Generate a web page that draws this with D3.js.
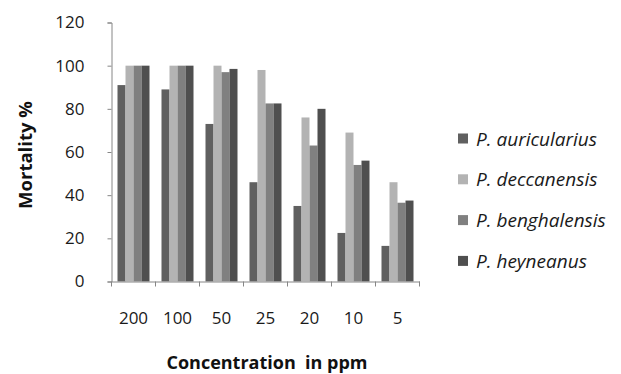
<!DOCTYPE html>
<html>
<head>
<meta charset="utf-8">
<script src="https://cdn.jsdelivr.net/npm/d3@7"></script>
<style>
  html, body { margin: 0; padding: 0; background: #ffffff; }
  svg { display: block; }
</style>
</head>
<body>
<svg id="chart" width="621" height="374"></svg>
<script>
// Concentrations tested (ppm) and mortality (%) per species
const concentrations = ["200", "100", "50", "25", "20", "10", "5"];
const species = ["P. auricularius", "P. deccanensis", "P. benghalensis", "P. heyneanus"];
const auricularius = [91, 89, 73, 46, 35, 22.5, 16.5];
const deccanensis  = [100, 100, 100, 98, 76, 69, 46];
const benghalensis = [100, 100, 97, 82.5, 63, 54, 36.5];
const heyneanus    = [100, 100, 98.5, 82.5, 80, 56, 37.5];
const yTicks = [0, 20, 40, 60, 80, 100, 120];

const seriesValues = [auricularius, deccanensis, benghalensis, heyneanus];
const colors = ["#606060", "#b3b3b3", "#808080", "#4f4f4f"];

const svg = d3.select("#chart");
const plotLeft = 111.5, plotRight = 419.5, plotTop = 22.5, plotBottom = 281.5;

const x = d3.scaleBand().domain(concentrations).range([plotLeft, plotRight]).paddingInner(0).paddingOuter(0);
// four bars per group, with a gap of 1.5 bar widths between groups
const inner = d3.scaleBand().domain(d3.range(species.length))
  .range([0, x.bandwidth()]).paddingInner(0).paddingOuter(0.75);
const y = d3.scaleLinear().domain([0, 120]).range([plotBottom, plotTop]);

// Bars
const groups = svg.append("g").selectAll("g")
  .data(concentrations)
  .join("g")
  .attr("transform", d => `translate(${x(d)},0)`);

groups.selectAll("rect")
  .data((c, i) => seriesValues.map((vals, s) => ({ s, v: vals[i] })))
  .join("rect")
  .attr("x", d => inner(d.s))
  .attr("width", inner.bandwidth())
  .attr("y", d => y(d.v))
  .attr("height", d => y(0) - y(d.v))
  .attr("fill", d => colors[d.s]);

const axisColor = "#868686";
const fontFam = "'Open Sans', 'Liberation Sans', sans-serif";

// Y axis
const yAxis = svg.append("g")
  .attr("transform", `translate(${plotLeft},0)`)
  .call(d3.axisLeft(y).tickValues(yTicks).tickSize(4).tickPadding(23).tickFormat(d3.format("d")));
yAxis.select(".domain").attr("stroke", axisColor);
yAxis.selectAll(".tick line").attr("stroke", axisColor);
yAxis.selectAll(".tick text")
  .attr("fill", "#1a1a1a")
  .style("font-family", fontFam)
  .style("font-size", "17px");

// X axis: tick marks at category boundaries, labels centred in each band
const xAxis = svg.append("g")
  .attr("transform", `translate(0,${plotBottom})`)
  .call(d3.axisBottom(x).tickSize(0).tickPadding(30));
xAxis.select(".domain").attr("stroke", axisColor);
xAxis.selectAll(".tick text")
  .attr("fill", "#1a1a1a")
  .style("font-family", fontFam)
  .style("font-size", "17px");
xAxis.selectAll(".bound")
  .data(concentrations.map(c => x(c)).concat([plotRight]))
  .join("line")
  .attr("class", "bound")
  .attr("x1", d => d).attr("x2", d => d)
  .attr("y1", 0).attr("y2", 5)
  .attr("stroke", axisColor);

// Axis titles
svg.append("text")
  .attr("transform", "translate(32,155) rotate(-90)")
  .attr("text-anchor", "middle")
  .style("font-family", fontFam)
  .style("font-size", "18.5px")
  .style("font-weight", "bold")
  .attr("fill", "#111")
  .text("Mortality %");

svg.append("text")
  .attr("x", 267)
  .attr("y", 369)
  .attr("text-anchor", "middle")
  .style("font-family", fontFam)
  .style("font-size", "18px")
  .style("font-weight", "bold")
  .style("white-space", "pre")
  .attr("fill", "#111")
  .text("Concentration  in ppm");

// Legend
const legend = svg.append("g").selectAll("g")
  .data(species)
  .join("g")
  .attr("transform", (d, i) => `translate(458,${139 + i * 40.8})`);
legend.append("rect")
  .attr("x", 0).attr("y", -5.5)
  .attr("width", 10).attr("height", 10)
  .attr("fill", (d, i) => colors[i]);
legend.append("text")
  .attr("x", 18)
  .attr("y", 6.5)
  .style("font-family", fontFam)
  .style("font-size", "19px")
  .style("font-style", "italic")
  .attr("fill", "#1a1a1a")
  .text(d => d);
</script>
</body>
</html>
